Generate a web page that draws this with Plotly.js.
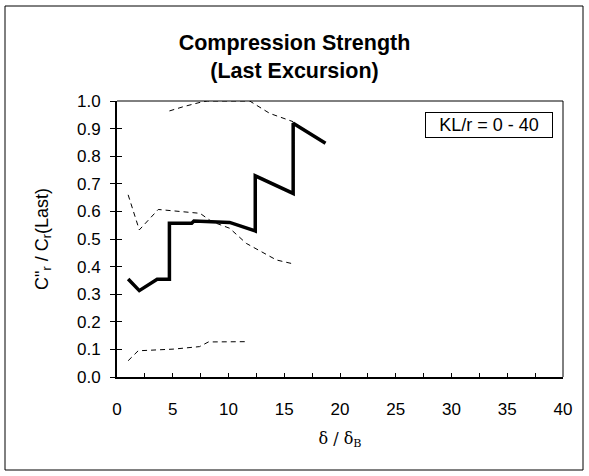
<!DOCTYPE html>
<html>
<head>
<meta charset="utf-8">
<script src="https://cdn.plot.ly/plotly-3.0.1.min.js"></script>
<style>html,body{margin:0;padding:0;background:#fff;}#chart{width:589px;height:476px;}</style>
</head>
<body>
<div id="chart"></div>
<script>
// Main series (solid, last excursion)
const mainX = [1.0, 2.0, 3.6, 4.7, 4.7, 6.7, 6.9, 10.1, 12.4, 12.4, 15.8, 15.8, 18.7];
const mainY = [0.355, 0.313, 0.354, 0.354, 0.557, 0.557, 0.565, 0.560, 0.529, 0.729, 0.665, 0.919, 0.847];
// Upper dashed bound
const upperX = [4.7, 6.0, 7.45, 8.1, 11.9, 13.7, 15.8];
const upperY = [0.964, 0.980, 0.995, 1.0, 1.0, 0.955, 0.925];
// Middle dashed
const midX = [1.0, 2.0, 3.7, 7.45, 8.5, 10.1, 11.6, 14.3, 15.9];
const midY = [0.660, 0.533, 0.607, 0.593, 0.563, 0.539, 0.484, 0.424, 0.409];
// Lower dashed
const lowX = [1.0, 1.9, 5.05, 7.4, 8.2, 11.6];
const lowY = [0.059, 0.095, 0.101, 0.110, 0.127, 0.128];

const xTicks = [0, 5, 10, 15, 20, 25, 30, 35, 40];
const yTicks = [0.0, 0.1, 0.2, 0.3, 0.4, 0.5, 0.6, 0.7, 0.8, 0.9, 1.0];

const dashStyle = {color: '#000', width: 1, dash: '5px,4px'};
const traces = [
  {x: upperX, y: upperY, mode: 'lines', line: dashStyle, showlegend: false, hoverinfo: 'skip'},
  {x: midX, y: midY, mode: 'lines', line: dashStyle, showlegend: false, hoverinfo: 'skip'},
  {x: lowX, y: lowY, mode: 'lines', line: dashStyle, showlegend: false, hoverinfo: 'skip'},
  {x: mainX, y: mainY, mode: 'lines', line: {color: '#000', width: 3.5}, showlegend: false},
  {x: [], y: [], yaxis: 'y2', mode: 'lines', showlegend: false, hoverinfo: 'skip'}
];

const F = 'Arial, "Liberation Sans", sans-serif';
const layout = {
  width: 589, height: 476,
  margin: {l: 117, r: 26, t: 101, b: 99},
  paper_bgcolor: '#fff', plot_bgcolor: '#fff',
  font: {family: F, size: 17, color: '#000'},
  title: {
    text: '<b>Compression Strength</b><br><b>(Last Excursion)</b>',
    font: {family: F, size: 21.5, color: '#000'},
    x: 0.5, xref: 'container', xanchor: 'center',
    y: 1 - 50/476, yref: 'container', yanchor: 'middle'
  },
  xaxis: {
    range: [0, 40], tickvals: xTicks, ticktext: xTicks.map(String),
    ticks: 'inside', ticklen: 4, tickwidth: 1, tickcolor: '#000',
    minor: {dtick: 2.5, tick0: 0, ticks: 'inside', ticklen: 4, tickwidth: 1, tickcolor: '#000', showgrid: false},
    showline: true, linecolor: '#000', linewidth: 2,
    showgrid: false, zeroline: false,
    ticklabelstandoff: 16,
    tickfont: {family: F, size: 17},
    title: {text: 'δ / δ<sub>B</sub>', font: {family: '"DejaVu Serif", "Liberation Serif", serif', size: 16}, standoff: 14}
  },
  yaxis: {
    range: [0, 1], tickvals: yTicks, ticktext: yTicks.map(v => v.toFixed(1)),
    ticks: 'outside', ticklen: 5, tickwidth: 1, tickcolor: '#000',
    showline: true, linecolor: '#000', linewidth: 2,
    showgrid: false, zeroline: false,
    ticklabelstandoff: 6,
    tickfont: {family: F, size: 17},
    title: {text: 'C"<sub>r</sub> / C<sub>r</sub>(Last)', font: {family: F, size: 18}, standoff: 24}
  },
  yaxis2: {
    range: [0, 1], overlaying: 'y', side: 'left', tickvals: yTicks,
    ticks: 'inside', ticklen: 5, tickwidth: 1, tickcolor: '#000',
    showticklabels: false, showline: false, showgrid: false, zeroline: false
  },
  shapes: [
    {type: 'line', xref: 'paper', yref: 'paper', x0: 0, x1: 1, y0: 1, y1: 1, line: {color: '#000', width: 1}},
    {type: 'line', xref: 'paper', yref: 'paper', x0: 1, x1: 1, y0: 0, y1: 1, line: {color: '#000', width: 1}},
    {type: 'rect', xref: 'paper', yref: 'paper',
     x0: (5 - 117) / 446, x1: (583 - 117) / 446, y0: (377 - 470) / 276, y1: (377 - 6) / 276,
     line: {color: '#000', width: 1}, fillcolor: 'rgba(0,0,0,0)'}
  ],
  annotations: [
    {text: 'KL/r = 0 - 40', xref: 'paper', yref: 'paper', x: (489 - 117) / 446, y: (377 - 125.5) / 276,
     xanchor: 'center', yanchor: 'middle', showarrow: false,
     font: {family: F, size: 18, color: '#000'},
     bordercolor: '#000', borderwidth: 1, borderpad: 2, bgcolor: '#fff', width: 122, height: 20}
  ]
};

Plotly.newPlot('chart', traces, layout, {staticPlot: true, displayModeBar: false});
</script>
</body>
</html>
